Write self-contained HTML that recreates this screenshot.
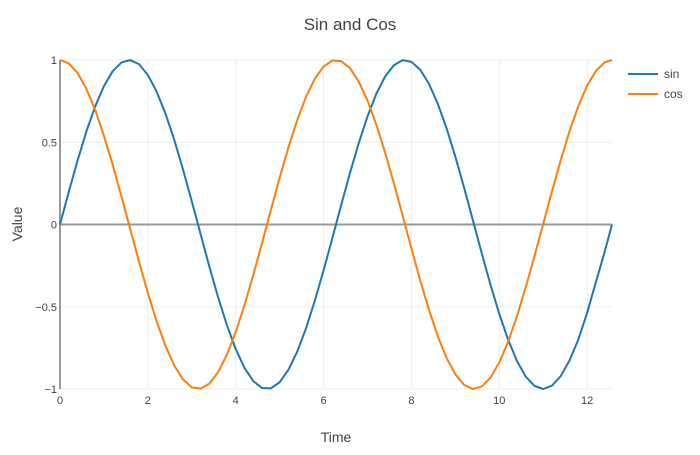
<!DOCTYPE html>
<html><head><meta charset="utf-8"><style>
body{margin:0;background:#fff;font-family:"Liberation Sans",sans-serif}
svg text{font-family:"Liberation Sans",sans-serif;fill:#444}
</style></head><body>
<svg id="chart" width="700" height="450">
<text x="350" y="30" text-anchor="middle" font-size="17">Sin and Cos</text>
<g id="grid"></g>
<g id="axes"></g>
<g id="series"></g>
<text x="336" y="442" text-anchor="middle" font-size="14">Time</text>
<text x="22" y="224" text-anchor="middle" font-size="14" transform="rotate(-90 22 224)">Value</text>
<g>
<g><line x1="628" x2="658" y1="74" y2="74" stroke="#1f77b4" stroke-width="2"/><text x="664" y="78" font-size="12">sin</text></g>
<g><line x1="628" x2="658" y1="94" y2="94" stroke="#ff7f0e" stroke-width="2"/><text x="664" y="98" font-size="12">cos</text></g>
</g>
</svg>
<script>
const xs=[0,0.2,0.4,0.6,0.8,1.0,1.2,1.4,1.6,1.8,2.0,2.2,2.4,2.6,2.8,3.0,3.2,3.4,3.6,3.8,4.0,4.2,4.4,4.6,4.8,5.0,5.2,5.4,5.6,5.8,6.0,6.2,6.4,6.6,6.8,7.0,7.2,7.4,7.6,7.8,8.0,8.2,8.4,8.6,8.8,9.0,9.2,9.4,9.6,9.8,10.0,10.2,10.4,10.6,10.8,11.0,11.2,11.4,11.6,11.8,12.0,12.2,12.4,12.566];
const sinVals=[0,.199,.389,.565,.717,.841,.932,.985,.9996,.974,.909,.808,.675,.516,.335,.141,-.058,-.256,-.443,-.612,-.757,-.872,-.952,-.994,-.996,-.959,-.883,-.773,-.631,-.465,-.279,-.083,.117,.312,.494,.657,.794,.899,.968,.999,.989,.941,.855,.734,.585,.412,.223,.025,-.174,-.366,-.544,-.699,-.828,-.924,-.981,-1,-.980,-.921,-.826,-.699,-.537,-.350,-.165,0];
const cosVals=[1,.980,.921,.825,.697,.540,.362,.170,-.029,-.227,-.416,-.589,-.737,-.857,-.942,-.990,-.998,-.967,-.897,-.791,-.654,-.490,-.307,-.112,.087,.284,.469,.635,.776,.886,.960,.997,.993,.951,.869,.754,.608,.438,.251,.054,-.146,-.340,-.519,-.679,-.811,-.911,-.975,-.9998,-.985,-.931,-.839,-.714,-.560,-.383,-.193,.004,.202,.392,.568,.720,.844,.934,.986,1];
const xTicks=[0,2,4,6,8,10,12];
const yTicks=[-1,-0.5,0,0.5,1];
const yTickLabels=["\u22121","\u22120.5","0","0.5","1"];
const X0=60,X1=612,Y0=389,Y1=60,xMax=12.566;
const sx=v=>X0+v/xMax*(X1-X0);
const sy=v=>Y0-(v+1)/2*(Y0-Y1);
const NS="http://www.w3.org/2000/svg";
function mk(tag,attrs,parent){const e=document.createElementNS(NS,tag);for(const k in attrs)e.setAttribute(k,attrs[k]);parent.appendChild(e);return e;}
const grid=document.getElementById('grid'),axes=document.getElementById('axes'),series=document.getElementById('series');
xTicks.forEach(t=>{
  const g=mk('line',{x1:sx(t),x2:sx(t),y1:Y1,y2:Y0,stroke:'#eee','stroke-width':1},grid);
  
  
  const l=mk('text',{x:sx(t),y:Y0+15,'text-anchor':'middle','font-size':11},axes);l.textContent=t;
  
  
});
yTicks.forEach((t,i)=>{
  const g=mk('line',{x1:X0,x2:X1,y1:sy(t),y2:sy(t),stroke:t===0?'#999':'#eee','stroke-width':t===0?2:1},grid);
  
  
  const l=mk('text',{x:X0-3,y:sy(t)+4,'text-anchor':'end','font-size':11},axes);l.textContent=yTickLabels[i];
  
  
});
const ax=mk('line',{x1:X0,x2:X0,y1:Y1,y2:Y0,stroke:'#999','stroke-width':2},axes);


function line(vals,color,name){
  const p=mk('polyline',{points:xs.map((x,i)=>sx(x)+','+sy(vals[i])).join(' '),fill:'none',stroke:color,'stroke-width':2,'stroke-linejoin':'round'},series);
  
  
}
line(sinVals,'#1f77b4','sin-line');
line(cosVals,'#ff7f0e','cos-line');
</script>
</body></html>
